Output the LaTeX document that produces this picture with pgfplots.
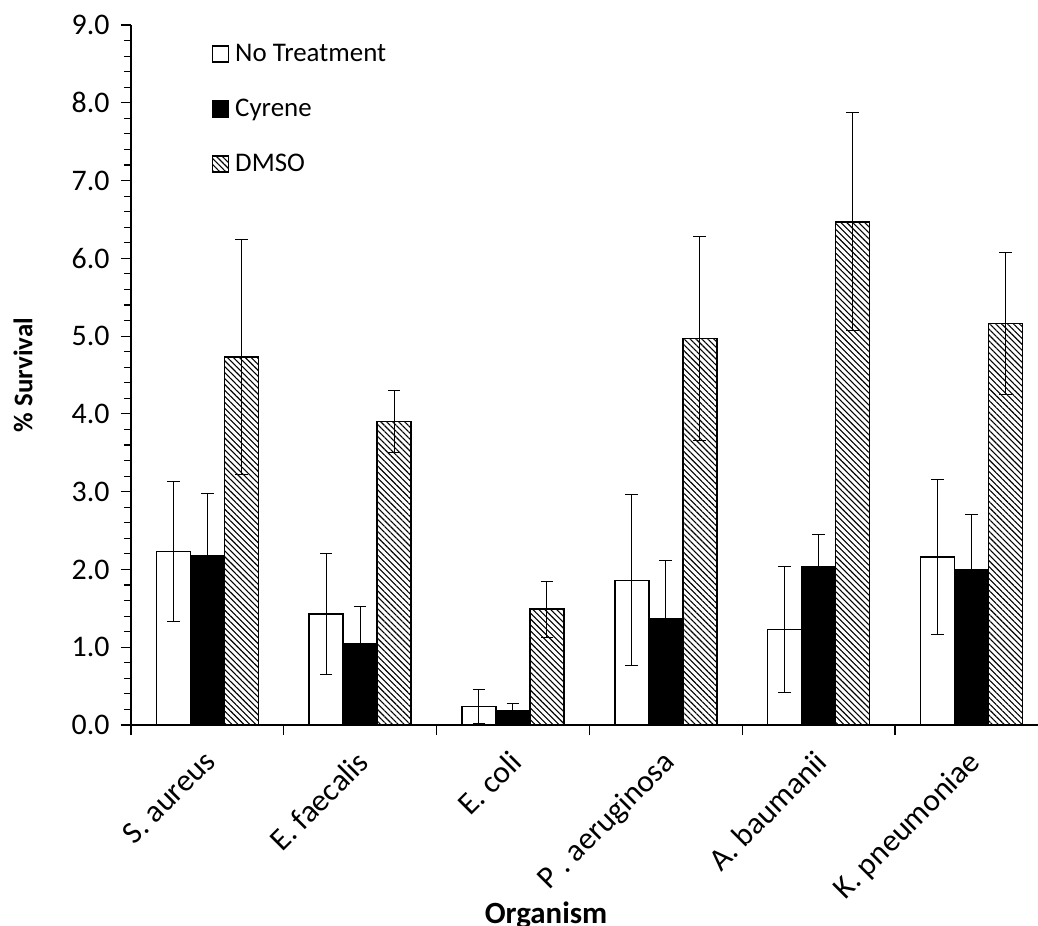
\documentclass[border=0pt]{standalone}
\usepackage{fontspec}
\setmainfont{Carlito}
\usepackage{pgfplots}
\pgfplotsset{compat=1.18}
\usetikzlibrary{patterns.meta}

\begin{document}
\begin{tikzpicture}[x=1bp,y=1bp]
\begin{axis}[
  at={(0,0)}, anchor=south west,
  scale only axis,
  width=907bp, height=700bp,
  ybar, bar width=34bp,
  xmin=-0.5, xmax=5.436,
  ymin=0, ymax=9,
  axis x line*=bottom, axis y line*=left,
  axis line style={line width=1.3bp, black},
  tick style={line width=1.1bp, black},
  tick align=outside,
  major tick length=10bp,
  minor tick length=7bp,
  ytick={0,1,...,9},
  minor y tick num=4,
  /pgf/number format/fixed,
  /pgf/number format/fixed zerofill,
  /pgf/number format/precision=1,
  /pgf/number format/assume math mode=true,
  yticklabel style={font=\fontsize{30}{30}\selectfont, xshift=-8bp},
  xtick={-0.5,0.5,1.5,2.5,3.5,4.5},
  xticklabels={},
  extra x ticks={0,1,2,3,4,5},
  extra x tick labels={S. aureus, E. faecalis, E. coli, P . aeruginosa, A. baumanii, K. pneumoniae},
  extra x tick style={major tick length=0pt, tick style={draw=none},
     xticklabel style={font=\fontsize{31.5}{31.5}\selectfont, xshift=-5bp, yshift=-19bp, rotate=45, anchor=north east}},
  ylabel={\bfseries\% Survival},
  ylabel style={at={(axis description cs:-0.119,0.5)}, anchor=center, font=\fontsize{27}{27}\selectfont},
  xlabel={\bfseries Organism},
  xlabel style={at={(axis description cs:0.4576,-0.283)}, anchor=base, font=\fontsize{31}{31}\selectfont},
  legend style={draw=none, fill=none, at={(rel axis cs:0.089,0.9736)}, anchor=north west,
     font=\fontsize{27}{27}\selectfont, row sep=34bp, inner sep=0pt,
     nodes={inner sep=1bp},
     /tikz/every odd column/.append style={column sep=5bp}},
  legend cell align=left,
  legend image code/.code={\draw[#1, line width=1.3bp] (0bp,-8bp) rectangle (16bp,8bp);},
  error bars/y dir=both,
  error bars/y explicit,
  error bars/error bar style={line width=1bp, black},
  error bars/error mark options={rotate=90, line width=1bp, black, mark size=6.3bp},
]
\addplot[bar shift=-34bp, fill=white, draw=black, line width=1.5bp]
  coordinates {(0,2.23) +- (0,0.90) (1,1.43) +- (0,0.78) (2,0.24) +- (0,0.22)
               (3,1.86) +- (0,1.10) (4,1.23) +- (0,0.81) (5,2.16) +- (0,0.99)};
\addlegendentry{No Treatment}
\addplot[bar shift=0bp, fill=black, draw=black, line width=1.5bp]
  coordinates {(0,2.17) +- (0,0.81) (1,1.04) +- (0,0.49) (2,0.18) +- (0,0.10)
               (3,1.37) +- (0,0.74) (4,2.04) +- (0,0.41) (5,2.00) +- (0,0.70)};
\addlegendentry{Cyrene}
\addplot[bar shift=34bp, draw=black, line width=1.5bp,
   pattern={Lines[angle=-45, distance=4.2bp, line width=1.1bp]}, pattern color=black]
  coordinates {(0,4.73) +- (0,1.51) (1,3.90) +- (0,0.40) (2,1.49) +- (0,0.36)
               (3,4.97) +- (0,1.31) (4,6.47) +- (0,1.40) (5,5.16) +- (0,0.91)};
\addlegendentry{DMSO}
\end{axis}
\pgfresetboundingbox
\useasboundingbox (-131,-201) rectangle (907,725);
\end{tikzpicture}
\end{document}
